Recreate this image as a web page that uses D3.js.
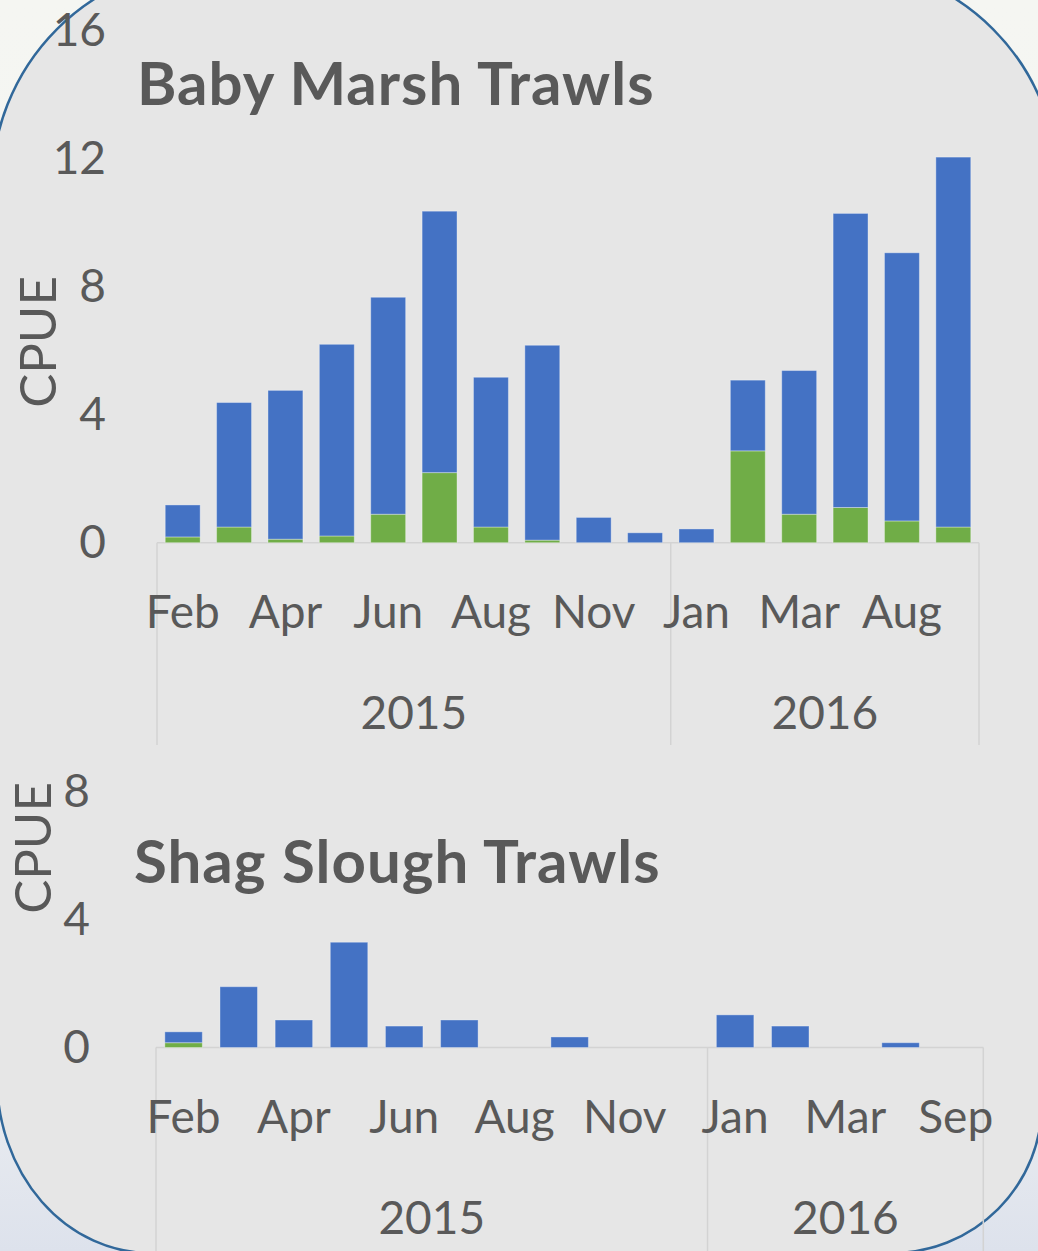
<!DOCTYPE html>
<html>
<head>
<meta charset="utf-8">
<script src="https://cdn.jsdelivr.net/npm/d3@7"></script>
<style>
  body { margin: 0; background: #f5f5f3; }
  svg { display: block; }
</style>
</head>
<body>
<div id="chart"></div>
<script>
// ---- data (CPUE per month) ----
var years = ["2015", "2016"];

// Baby Marsh trawls
var bmMonths2015 = ["Feb", "Mar", "Apr", "May", "Jun", "Jul", "Aug", "Sep", "Nov", "Dec"];
var bmMonths2016 = ["Jan", "Feb", "Mar", "Jun", "Aug", "Sep"];
var bmGreen = [0.18, 0.49, 0.11, 0.21, 0.89, 2.19, 0.49, 0.08, 0, 0, 0, 2.87, 0.89, 1.10, 0.68, 0.49];
var bmBlue  = [1.00, 3.89, 4.65, 5.99, 6.78, 8.17, 4.68, 6.09, 0.79, 0.31, 0.43, 2.21, 4.49, 9.19, 8.38, 11.56];
var bmTicks = [0, 4, 8, 12, 16];

// Shag Slough trawls
var ssMonths2015 = ["Feb", "Mar", "Apr", "May", "Jun", "Jul", "Aug", "Sep", "Nov", "Dec"];
var ssMonths2016 = ["Jan", "Feb", "Mar", "Jun", "Sep"];
var ssGreen = [0.15, 0, 0, 0, 0, 0, 0, 0, 0, 0, 0, 0, 0, 0, 0];
var ssBlue  = [0.34, 1.90, 0.86, 3.29, 0.67, 0.86, 0, 0.33, 0, 0, 1.02, 0.67, 0, 0.15, 0];
var ssTicks = [0, 4, 8];

var blue = "#4472c4", green = "#70ad47", textColor = "#595959", gridColor = "#d3d3d3";
var font = "Lato, 'Open Sans', sans-serif";

var W = 1038, H = 1251;
var svg = d3.select("#chart").append("svg")
  .attr("width", W)
  .attr("height", H)
  .style("font-family", font);

// photo-ish backdrop outside the rounded panel
var defs = svg.append("defs");
var grad = defs.append("linearGradient").attr("id", "bg").attr("x1", 0).attr("y1", 0).attr("x2", 0).attr("y2", 1);
grad.append("stop").attr("offset", "0%").attr("stop-color", "#f5f6f2");
grad.append("stop").attr("offset", "78%").attr("stop-color", "#f3f3f3");
grad.append("stop").attr("offset", "100%").attr("stop-color", "#dde2ec");
svg.append("rect").attr("width", W).attr("height", H).attr("fill", "url(#bg)");

// rounded panel; the corners in the picture are not quite equal
var topL = -8, topR = 1058, botL = -3, botR = 1042, yT = -36, yB = 1253;
var rT = 222, rB = 150, rBLx = 153, rBLy = 175;
var panel = "M" + (topL + rT) + "," + yT +
  " H" + (topR - rT) +
  " A" + rT + "," + rT + " 0 0 1 " + topR + "," + (yT + rT) +
  " L" + botR + "," + (yB - rB) +
  " A" + rB + "," + rB + " 0 0 1 " + (botR - rB) + "," + yB +
  " H" + (botL + rBLx) +
  " A" + rBLx + "," + rBLy + " 0 0 1 " + botL + "," + (yB - rBLy) +
  " L" + topL + "," + (yT + rT) +
  " A" + rT + "," + rT + " 0 0 1 " + (topL + rT) + "," + yT + " Z";
svg.append("path")
  .attr("d", panel)
  .attr("fill", "#e6e6e6")
  .attr("stroke", "#31689a")
  .attr("stroke-width", 2.5);

function drawPanel(p) {
  var months = p.months[0].concat(p.months[1]);
  var n = months.length;
  var rows = d3.range(n).map(function(i) {
    return {i: i, green: p.green[i], blue: p.blue[i]};
  });

  var x = d3.scaleBand()
    .domain(d3.range(n))
    .range([p.left, p.right])
    .paddingInner(0.32)
    .paddingOuter(0.16);

  var y = d3.scaleLinear()
    .domain([0, d3.max(p.ticks)])
    .range([p.base, p.top]);

  var g = svg.append("g");

  // baseline + year group separators
  g.append("line")
    .attr("x1", p.left).attr("x2", p.right)
    .attr("y1", y(0)).attr("y2", y(0))
    .attr("stroke", gridColor).attr("stroke-width", 1.5);

  var bounds = [0, p.months[0].length, n];
  g.selectAll(".sep")
    .data(bounds)
    .enter().append("line")
    .attr("class", "sep")
    .attr("x1", function(k) { return p.left + k * x.step(); })
    .attr("x2", function(k) { return p.left + k * x.step(); })
    .attr("y1", y(0))
    .attr("y2", p.groupBottom)
    .attr("stroke", gridColor).attr("stroke-width", 1.5);

  // stacked bars, green under blue
  var series = d3.stack().keys(["green", "blue"])(rows);
  g.selectAll(".series")
    .data(series)
    .enter().append("g")
    .attr("fill", function(s) { return s.key == "green" ? green : blue; })
    .selectAll("rect")
    .data(function(s) { return s.filter(function(d) { return d[1] - d[0] > 0; }); })
    .enter().append("rect")
    .attr("x", function(d) { return x(d.data.i); })
    .attr("width", x.bandwidth())
    .attr("y", function(d) { return y(d[1]); })
    .attr("height", function(d) { return y(d[0]) - y(d[1]); })
    .attr("stroke", "rgba(255,255,255,0.35)")
    .attr("stroke-width", 1);

  // y axis labels
  var yAxis = g.append("g")
    .attr("transform", "translate(" + p.left + ",0)")
    .call(d3.axisLeft(y).tickValues(p.ticks).tickSize(0).tickPadding(p.left - p.labelRight));
  yAxis.select(".domain").remove();
  yAxis.selectAll("text")
    .attr("fill", textColor)
    .style("font-family", font)
    .style("font-size", "46px");

  // month labels (every other one shown)
  var xAxis = g.append("g")
    .attr("transform", "translate(0," + y(0) + ")")
    .call(d3.axisBottom(x).tickSize(0).tickFormat(function(i) { return i % 2 == 0 ? months[i] : ""; }));
  xAxis.select(".domain").remove();
  xAxis.selectAll("text")
    .attr("y", 85).attr("dy", 0)
    .attr("fill", textColor)
    .style("font-family", font)
    .style("font-size", "46px");

  // year labels
  g.selectAll(".year")
    .data(years)
    .enter().append("text")
    .attr("class", "year")
    .attr("x", function(yr, k) { return p.left + (bounds[k] + bounds[k + 1]) / 2 * x.step(); })
    .attr("y", y(0) + 186)
    .attr("text-anchor", "middle")
    .attr("fill", textColor)
    .style("font-size", "46px")
    .text(function(yr) { return yr; });

  // axis title
  g.append("text")
    .attr("transform", "translate(" + p.cpueX + "," + p.cpueY + ") rotate(-90)")
    .attr("text-anchor", "middle")
    .attr("dy", "0.36em")
    .attr("fill", textColor)
    .style("font-size", "51px")
    .text("CPUE");

  // chart title
  g.append("text")
    .attr("x", p.titleX)
    .attr("y", p.titleY)
    .attr("fill", textColor)
    .style("font-size", "60px")
    .style("font-weight", "bold")
    .style("letter-spacing", "1px")
    .text(p.title);
}

drawPanel({
  title: "Baby Marsh Trawls", titleX: 137, titleY: 105,
  months: [bmMonths2015, bmMonths2016], green: bmGreen, blue: bmBlue, ticks: bmTicks,
  left: 157, right: 979, base: 542.7, top: 30.7, labelRight: 106,
  groupBottom: 745, cpueX: 38, cpueY: 342
});

drawPanel({
  title: "Shag Slough Trawls", titleX: 134, titleY: 883,
  months: [ssMonths2015, ssMonths2016], green: ssGreen, blue: ssBlue, ticks: ssTicks,
  left: 156, right: 983.3, base: 1047.5, top: 791.5, labelRight: 90,
  groupBottom: 1260, cpueX: 33, cpueY: 848
});
</script>
</body>
</html>
